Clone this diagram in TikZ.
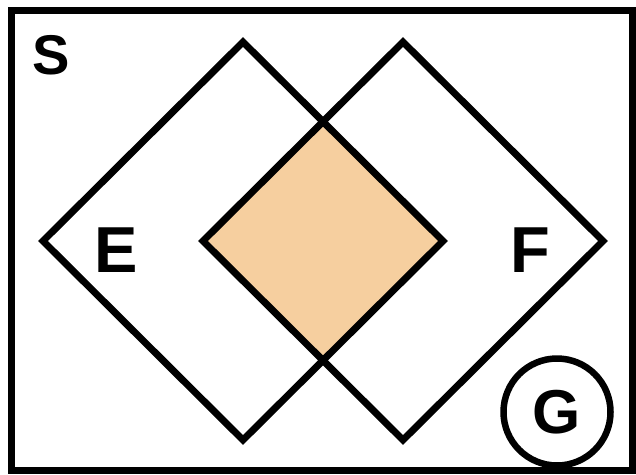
\documentclass[tikz,border=0pt]{standalone}
\usepackage{fontspec}
\setmainfont{Liberation Sans}
\usepackage{xcolor}
\usetikzlibrary{positioning}
\definecolor{overlap}{HTML}{F6CF9F}

\begin{document}
\begin{tikzpicture}[x=1pt,y=-1pt]
\tikzstyle{outline} = [line width=7pt, draw=black]
\tikzstyle{letter} = [font=\bfseries, inner sep=0pt]

\useasboundingbox (0,0) rectangle (636,474);

% overlap of E and F
\fill [overlap] (323,121) -- (443,241) -- (323,361) -- (203,241) -- cycle;

\draw [outline] (11,10) rectangle (632,470);
\draw [outline] (243,42) -- (443,241) -- (243,440) -- (43,241) -- cycle;
\draw [outline] (403,42) -- (603,241) -- (403,440) -- (203,241) -- cycle;

\node (s) [letter, font=\fontsize{56}{60}\selectfont\bfseries] at (51,55) {S};
\node (e) [letter, font=\fontsize{65}{70}\selectfont\bfseries] at (116,250) {E};
\node (f) [letter, font=\fontsize{65}{70}\selectfont\bfseries] at (530,250) {F};
\node (g) [letter, font=\fontsize{62}{66}\selectfont\bfseries, circle, draw, line width=6.5pt, minimum size=107pt] at (557,412) {G};

\end{tikzpicture}
\end{document}
